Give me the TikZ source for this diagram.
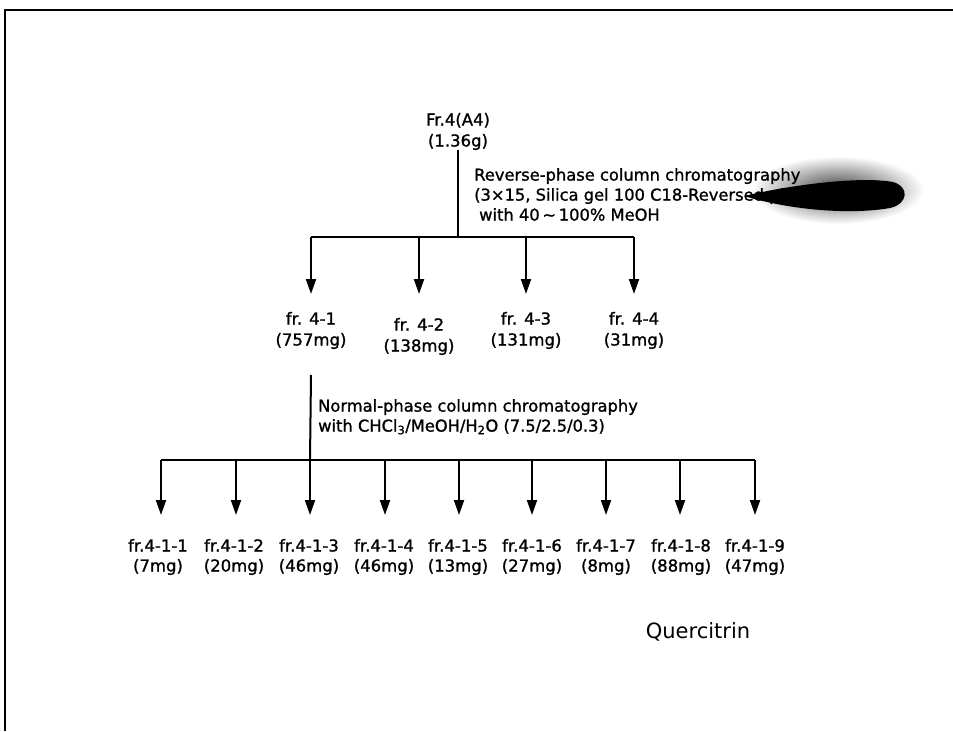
\documentclass[tikz,border=0pt]{standalone}
\usepackage{fontspec}
\setmainfont{DejaVu Sans}
\newfontfamily\medf[FakeBold=1.2]{DejaVu Sans}
\usetikzlibrary{arrows.meta}
\begin{document}
\begin{tikzpicture}[x=1pt,y=-1pt,
  wire/.style={line width=2pt},
  arr/.style={line width=2pt,-{Triangle[width=10pt,length=15pt]}},
  lab/.style={align=center,font=\medf\fontsize{16.5}{21}\selectfont,inner sep=0pt,outer sep=0pt,anchor=north},
  sublab/.style={align=center,font=\medf\fontsize{16.5}{20}\selectfont,inner sep=0pt,outer sep=0pt,anchor=north},
  note/.style={align=left,font=\medf\fontsize{16.3}{20}\selectfont,inner sep=0pt,anchor=north west}]
\useasboundingbox (0,0) rectangle (953,731);
\draw[line width=2pt] (5,731) -- (5,10) -- (953,10);

% scan smear (halo)
\shade[inner color=black!75, outer color=white] (838,190) ellipse (86 and 34);

% top node
\node[lab] (fr4) at (458,113) {Fr.4(A4)\\(1.36g)};
\coordinate (j0) at (458,237);
\draw[wire] (fr4.south) -- (j0);
\coordinate (b1) at (311,237);
\coordinate (b2) at (419,237);
\coordinate (b3) at (526,237);
\coordinate (b4) at (634,237);
\draw[wire] (b1) -- (b4);

\node[note] (rp) at (474,168) {Reverse-phase column chromatography\\(3×15, Silica gel 100 C18-Reversed phase)\\\hspace{5pt}with 40\,∼\,100\% MeOH};

% smear core
\fill[black] (744,196) .. controls (790,185) and (860,176) .. (893,182)
  .. controls (910,187) and (908,204) .. (890,208)
  .. controls (850,215) and (790,210) .. (744,196) -- cycle;

\node[lab] (f41) at (311,312) {fr. 4-1\\(757mg)};
\node[lab] (f42) at (419,318) {fr. 4-2\\(138mg)};
\node[lab] (f43) at (526,312) {fr. 4-3\\(131mg)};
\node[lab] (f44) at (634,312) {fr. 4-4\\(31mg)};
\draw[arr,shorten >=18pt] (b1) -- (f41.north);
\draw[arr,shorten >=24pt] (b2) -- (f42.north);
\draw[arr,shorten >=18pt] (b3) -- (f43.north);
\draw[arr,shorten >=18pt] (b4) -- (f44.north);

% second stage
\coordinate (j1) at (310,460);
\draw[wire] ([yshift=-26pt]f41.south) -- (j1);
\node[note] (np) at (318,399) {Normal-phase column chromatography\\with CHCl\textsubscript{3}/MeOH/H\textsubscript{2}O (7.5/2.5/0.3)};

\foreach \i/\x in {1/161,2/236,3/310,4/385,5/459,6/532,7/606,8/680,9/755}{
  \coordinate (c\i) at (\x,460);
}
\draw[wire] (c1) -- (c9);

\node[sublab] (g1) at (158,539) {fr.4-1-1\\(7mg)};
\node[sublab] (g2) at (234,539) {fr.4-1-2\\(20mg)};
\node[sublab] (g3) at (309,539) {fr.4-1-3\\(46mg)};
\node[sublab] (g4) at (384,539) {fr.4-1-4\\(46mg)};
\node[sublab] (g5) at (458,539) {fr.4-1-5\\(13mg)};
\node[sublab] (g6) at (532,539) {fr.4-1-6\\(27mg)};
\node[sublab] (g7) at (606,539) {fr.4-1-7\\(8mg)};
\node[sublab] (g8) at (681,539) {fr.4-1-8\\(88mg)};
\node[sublab] (g9) at (755,539) {fr.4-1-9\\(47mg)};
\foreach \i in {1,...,9}{
  \draw[arr] (c\i) -- (c\i |- 0,515);
}

\node[font=\fontsize{21}{24}\selectfont,inner sep=0pt] (q) at (698,632) {Quercitrin};
\end{tikzpicture}
\end{document}
